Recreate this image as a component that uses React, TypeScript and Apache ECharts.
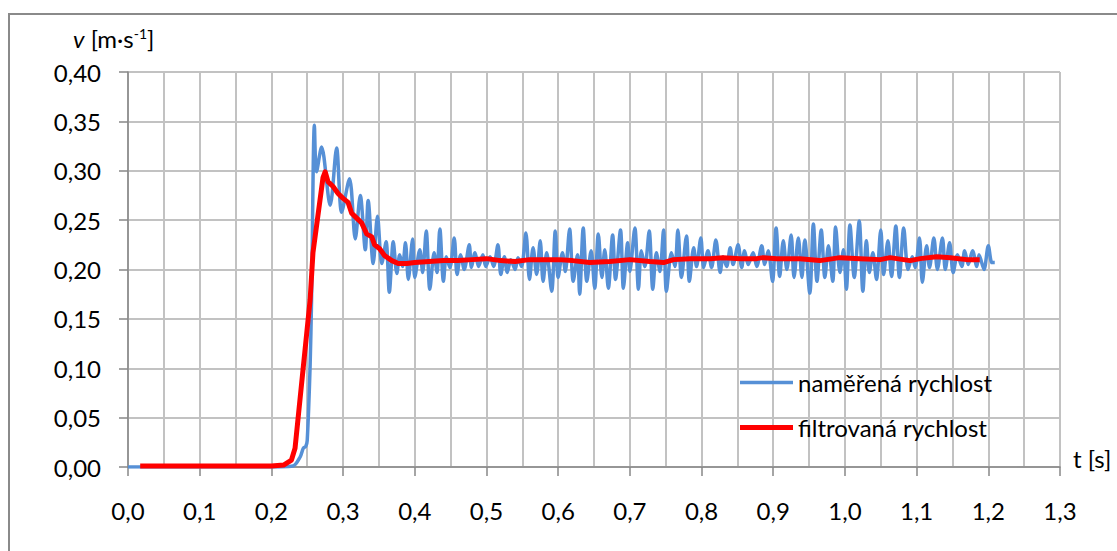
import React, { useEffect, useRef } from "react";
import * as echarts from "echarts";

const FONT = "Lato, 'Open Sans', sans-serif";

// measured speed (naměřená rychlost): [t s, v m/s]
const measuredSpeed: [number, number][] = [
  [0.0, 0.0], [0.1, 0.0], [0.2, 0.0], [0.23, 0.001], [0.24, 0.01], [0.2445, 0.019], [0.248, 0.021],
  [0.25, 0.027], [0.254, 0.102], [0.256, 0.169], [0.26, 0.346], [0.263, 0.299], [0.27, 0.324],
  [0.282, 0.265], [0.291, 0.323], [0.298, 0.258], [0.309, 0.292], [0.317, 0.231], [0.324, 0.275],
  [0.331, 0.22], [0.335, 0.27], [0.342, 0.206], [0.348, 0.254], [0.354, 0.206], [0.36, 0.228],
  [0.3645, 0.177], [0.37, 0.228], [0.375, 0.196], [0.379, 0.215], [0.383, 0.203], [0.387, 0.227],
  [0.391, 0.19], [0.397, 0.231], [0.4, 0.192], [0.407, 0.22], [0.411, 0.197], [0.416, 0.239],
  [0.421, 0.18], [0.427, 0.217], [0.431, 0.197], [0.435, 0.241], [0.44, 0.188], [0.444, 0.213],
  [0.449, 0.202], [0.455, 0.232], [0.459, 0.195], [0.464, 0.215], [0.469, 0.2], [0.476, 0.225],
  [0.479, 0.202], [0.484, 0.217], [0.489, 0.203], [0.495, 0.215], [0.499, 0.203], [0.505, 0.213],
  [0.51, 0.203], [0.516, 0.225], [0.52, 0.195], [0.525, 0.213], [0.529, 0.197], [0.534, 0.21],
  [0.54, 0.2], [0.544, 0.212], [0.549, 0.203], [0.555, 0.237], [0.56, 0.19], [0.565, 0.222],
  [0.57, 0.195], [0.575, 0.229], [0.579, 0.188], [0.584, 0.217], [0.591, 0.178], [0.596, 0.239],
  [0.6, 0.192], [0.606, 0.217], [0.61, 0.198], [0.616, 0.241], [0.621, 0.188], [0.627, 0.215],
  [0.63, 0.175], [0.635, 0.242], [0.64, 0.188], [0.646, 0.219], [0.651, 0.181], [0.656, 0.236],
  [0.661, 0.192], [0.665, 0.22], [0.67, 0.181], [0.676, 0.235], [0.68, 0.19], [0.687, 0.24],
  [0.691, 0.181], [0.697, 0.227], [0.7, 0.198], [0.707, 0.242], [0.712, 0.18], [0.716, 0.219],
  [0.721, 0.203], [0.727, 0.239], [0.732, 0.18], [0.737, 0.217], [0.742, 0.198], [0.747, 0.24],
  [0.751, 0.178], [0.758, 0.217], [0.763, 0.203], [0.767, 0.24], [0.772, 0.192], [0.779, 0.234],
  [0.783, 0.188], [0.789, 0.222], [0.793, 0.203], [0.799, 0.232], [0.803, 0.202], [0.809, 0.219],
  [0.814, 0.202], [0.82, 0.23], [0.826, 0.197], [0.83, 0.213], [0.835, 0.203], [0.84, 0.222],
  [0.844, 0.205], [0.851, 0.225], [0.856, 0.202], [0.86, 0.219], [0.865, 0.205], [0.872, 0.217],
  [0.877, 0.203], [0.884, 0.224], [0.888, 0.205], [0.893, 0.219], [0.899, 0.188], [0.904, 0.242],
  [0.909, 0.193], [0.914, 0.229], [0.919, 0.2], [0.925, 0.235], [0.929, 0.192], [0.935, 0.232],
  [0.94, 0.192], [0.944, 0.23], [0.951, 0.176], [0.956, 0.246], [0.961, 0.188], [0.967, 0.24],
  [0.972, 0.192], [0.977, 0.224], [0.983, 0.188], [0.987, 0.243], [0.993, 0.197], [0.998, 0.22],
  [1.002, 0.18], [1.007, 0.245], [1.013, 0.192], [1.02, 0.249], [1.025, 0.178], [1.03, 0.229],
  [1.034, 0.197], [1.039, 0.217], [1.044, 0.19], [1.05, 0.24], [1.054, 0.195], [1.06, 0.229],
  [1.065, 0.193], [1.071, 0.244], [1.076, 0.192], [1.082, 0.242], [1.088, 0.2], [1.094, 0.213],
  [1.098, 0.202], [1.104, 0.232], [1.108, 0.187], [1.114, 0.224], [1.118, 0.202], [1.124, 0.232],
  [1.129, 0.2], [1.136, 0.232], [1.14, 0.2], [1.146, 0.227], [1.151, 0.197], [1.157, 0.215],
  [1.163, 0.203], [1.167, 0.219], [1.172, 0.205], [1.178, 0.219], [1.184, 0.203], [1.187, 0.215],
  [1.194, 0.2], [1.2, 0.224], [1.205, 0.207], [1.209, 0.207],
];

// filtered speed (filtrovaná rychlost): [t s, v m/s]
const filteredSpeed: [number, number][] = [
  [0.017, 0.001], [0.1, 0.001], [0.2, 0.001], [0.217, 0.002], [0.228, 0.007], [0.233, 0.019],
  [0.254, 0.169], [0.258, 0.217], [0.272, 0.293], [0.275, 0.299], [0.279, 0.289], [0.286, 0.284],
  [0.293, 0.277], [0.3, 0.272], [0.307, 0.268], [0.312, 0.257], [0.319, 0.252], [0.326, 0.247],
  [0.333, 0.236], [0.34, 0.233], [0.344, 0.225], [0.351, 0.221], [0.358, 0.214], [0.368, 0.209],
  [0.377, 0.206], [0.389, 0.206], [0.4, 0.207], [0.42, 0.208], [0.44, 0.209], [0.46, 0.209],
  [0.48, 0.21], [0.5, 0.211], [0.52, 0.209], [0.54, 0.208], [0.56, 0.21], [0.58, 0.21],
  [0.6, 0.21], [0.62, 0.209], [0.644, 0.207], [0.672, 0.208], [0.7, 0.21], [0.728, 0.208],
  [0.747, 0.207], [0.761, 0.21], [0.784, 0.211], [0.812, 0.211], [0.83, 0.212], [0.854, 0.211],
  [0.877, 0.211], [0.886, 0.212], [0.905, 0.211], [0.937, 0.211], [0.965, 0.209], [0.993, 0.212],
  [1.021, 0.211], [1.049, 0.21], [1.063, 0.212], [1.091, 0.209], [1.105, 0.211], [1.128, 0.213],
  [1.147, 0.212], [1.17, 0.21], [1.188, 0.21],
];

const seriesNames = ["naměřená rychlost", "filtrovaná rychlost"];
const xAxisTitle = "t [s]";

const GRID_COLOR = "#c2c2c2";
const AXIS_COLOR = "#878787";
const FS = 24;

export default function App() {
  const ref = useRef<HTMLDivElement>(null);
  useEffect(() => {
    const chart = echarts.init(ref.current!, null, { renderer: "svg" });
    const option: any = {
      animation: false,
      backgroundColor: "#ffffff",
      textStyle: { fontFamily: FONT },
      grid: { left: 128, top: 72, right: 57, bottom: 84 },
      xAxis: {
        type: "value",
        min: 0,
        max: 1.3,
        interval: 0.1,
        axisLine: { show: true, onZero: false, lineStyle: { color: AXIS_COLOR, width: 1.5 } },
        axisTick: { show: true, length: 9, lineStyle: { color: AXIS_COLOR, width: 1.5 } },
        axisLabel: {
          margin: 31,
          fontSize: FS,
          color: "#000",
          fontFamily: FONT,
          formatter: (v: number) => v.toFixed(1).replace(".", ","),
        },
        splitLine: { show: true, lineStyle: { color: GRID_COLOR, width: 2 } },
        minorTick: { show: false, splitNumber: 2 },
        minorSplitLine: { show: true, lineStyle: { color: GRID_COLOR, width: 2 } },
      },
      yAxis: {
        type: "value",
        min: 0,
        max: 0.4,
        interval: 0.05,
        axisLine: { show: true, lineStyle: { color: AXIS_COLOR, width: 1.5 } },
        axisTick: { show: true, length: 9, lineStyle: { color: AXIS_COLOR, width: 1.5 } },
        axisLabel: {
          margin: 27,
          fontSize: FS,
          color: "#000",
          fontFamily: FONT,
          formatter: (v: number) => v.toFixed(2).replace(".", ","),
        },
        splitLine: { show: true, lineStyle: { color: GRID_COLOR, width: 2 } },
      },
      legend: {
        orient: "vertical",
        left: 740,
        top: 370,
        padding: 0,
        itemWidth: 53,
        itemHeight: 5,
        itemGap: 20,
        textStyle: { fontSize: FS, color: "#000", fontFamily: FONT, lineHeight: 25 },
        data: [
          { name: seriesNames[0], icon: "path://M0,0h53v3.5h-53z" },
          { name: seriesNames[1], icon: "path://M0,0h53v5h-53z" },
        ],
      },
      graphic: [
        {
          type: "rect",
          shape: { x: 9, y: 14, width: 1300, height: 700 },
          style: { fill: "none", stroke: "#8a8a8a", lineWidth: 2 },
          silent: true,
        },
        {
          type: "text",
          x: 73,
          y: 38,
          style: {
            text: "{i|v} [m·s{s|-1}]",
            fontSize: FS,
            fontFamily: FONT,
            fill: "#000",
            verticalAlign: "middle",
            rich: {
              i: { fontStyle: "italic", fontSize: FS, fontFamily: FONT, fill: "#000" },
              s: { fontSize: 14, fontFamily: FONT, fill: "#000", verticalAlign: "top" },
            },
          },
        },
        {
          type: "text",
          x: 1073,
          y: 458,
          style: {
            text: xAxisTitle,
            fontSize: FS,
            fontFamily: FONT,
            fill: "#000",
            verticalAlign: "middle",
          },
        },
      ],
      series: [
        {
          name: seriesNames[0],
          type: "line",
          data: measuredSpeed,
          showSymbol: false,
          smooth: 0.3,
          color: "#5690d6",
          lineStyle: { color: "#5690d6", width: 3.5 },
          z: 2,
        },
        {
          name: seriesNames[1],
          type: "line",
          data: filteredSpeed,
          showSymbol: false,
          color: "#ff0000",
          lineStyle: { color: "#ff0000", width: 5, join: "round" },
          z: 3,
        },
      ],
    };
    chart.setOption(option);
    return () => chart.dispose();
  }, []);
  return (
    <div
      ref={ref}
      style={{ position: "absolute", left: 0, top: 0, width: 1117, height: 551 }}
    />
  );
}
